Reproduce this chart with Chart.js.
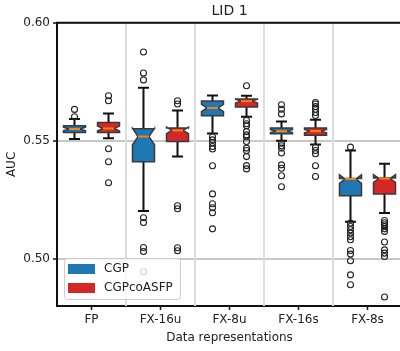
<!DOCTYPE html>
<html>
<head>
<meta charset="utf-8">
<script src="https://cdn.jsdelivr.net/npm/chart.js@4"></script>
<style>
  html, body { margin: 0; padding: 0; background: #fff; overflow: hidden; }
  #wrap { width: 404px; height: 351px; }
</style>
</head>
<body>
<div id="wrap"><canvas id="chart"></canvas></div>
<script>
// categories and axis ticks
const categories = ['FP', 'FX-16u', 'FX-8u', 'FX-16s', 'FX-8s'];
const yTicks = [0.50, 0.55, 0.60];

// CGP (blue) box stats
const cgpQ1  = [0.5535, 0.5411, 0.5606, 0.5530, 0.5267];
const cgpMed = [0.5550, 0.5518, 0.5639, 0.5541, 0.5338];
const cgpQ3  = [0.5564, 0.5551, 0.5669, 0.5554, 0.5340];
const cgpLo  = [0.5508, 0.5203, 0.5531, 0.5500, 0.5157];
const cgpHi  = [0.5592, 0.5725, 0.5692, 0.5582, 0.5459];
const cgpOut = [
  [0.5633, 0.5602],
  [0.5876, 0.5787, 0.5758, 0.5174, 0.5154, 0.5048, 0.5031, 0.4945],
  [0.5517, 0.5504, 0.5492, 0.5476, 0.5465, 0.5394, 0.5275, 0.5233, 0.5216, 0.5195, 0.5127],
  [0.5653, 0.5634, 0.5614, 0.5490, 0.5479, 0.5469, 0.5448, 0.5398, 0.5384, 0.5352, 0.5305],
  [0.5473, 0.5151, 0.5137, 0.5123, 0.5109, 0.5094, 0.5081, 0.5035, 0.5020, 0.4992, 0.4932, 0.4890]
];

// CGPcoASFP (red) box stats
const coQ1  = [0.5535, 0.5497, 0.5643, 0.5524, 0.5275];
const coMed = [0.5552, 0.5544, 0.5668, 0.5541, 0.5340];
const coQ3  = [0.5578, 0.5554, 0.5677, 0.5554, 0.5342];
const coLo  = [0.5511, 0.5433, 0.5602, 0.5484, 0.5194];
const coHi  = [0.5616, 0.5628, 0.5691, 0.5589, 0.5403];
const coOut = [
  [0.5691, 0.5670, 0.5466, 0.5411, 0.5322],
  [0.5670, 0.5656, 0.5225, 0.5212, 0.5047, 0.5034],
  [0.5733, 0.5586, 0.5572, 0.5564, 0.5539, 0.5525, 0.5516, 0.5497, 0.5469, 0.5459, 0.5433, 0.5395, 0.5381],
  [0.5662, 0.5656, 0.5645, 0.5634, 0.5620, 0.5607, 0.5473, 0.5459, 0.5445, 0.5394, 0.5349],
  [0.5162, 0.5153, 0.5144, 0.5136, 0.5127, 0.5116, 0.5071, 0.5038, 0.5024, 0.5010, 0.4838]
];

const runsPerBox = 40; // used for notch size

const series = [
  { label: 'CGP', color: '#1f77b4', q1: cgpQ1, med: cgpMed, q3: cgpQ3, lo: cgpLo, hi: cgpHi, out: cgpOut },
  { label: 'CGPcoASFP', color: '#d62728', q1: coQ1, med: coMed, q3: coQ3, lo: coLo, hi: coHi, out: coOut }
];

const FONT = "'DejaVu Sans', sans-serif";

function drawBox(ctx, y, cx, w, s, i) {
  const left = cx - w / 2, right = cx + w / 2;
  const capL = cx - w / 4, capR = cx + w / 4;
  const q1 = y.getPixelForValue(s.q1[i]);
  const q3 = y.getPixelForValue(s.q3[i]);
  const md = y.getPixelForValue(s.med[i]);
  const half = 1.57 * (s.q3[i] - s.q1[i]) / Math.sqrt(runsPerBox);
  const nLo = y.getPixelForValue(s.med[i] - half);
  const nHi = y.getPixelForValue(s.med[i] + half);
  const lo = y.getPixelForValue(s.lo[i]);
  const hi = y.getPixelForValue(s.hi[i]);

  // whiskers + caps
  ctx.strokeStyle = '#111';
  ctx.lineWidth = 2;
  ctx.beginPath();
  ctx.moveTo(cx, q1); ctx.lineTo(cx, lo);
  ctx.moveTo(cx, q3); ctx.lineTo(cx, hi);
  ctx.moveTo(capL, lo); ctx.lineTo(capR, lo);
  ctx.moveTo(capL, hi); ctx.lineTo(capR, hi);
  ctx.stroke();

  // notched box
  ctx.beginPath();
  ctx.moveTo(left, q1);
  ctx.lineTo(right, q1);
  ctx.lineTo(right, nLo);
  ctx.lineTo(capR, md);
  ctx.lineTo(right, nHi);
  ctx.lineTo(right, q3);
  ctx.lineTo(left, q3);
  ctx.lineTo(left, nHi);
  ctx.lineTo(capL, md);
  ctx.lineTo(left, nLo);
  ctx.closePath();
  ctx.fillStyle = s.color;
  ctx.fill();
  ctx.strokeStyle = '#3a3a3a';
  ctx.lineWidth = 1.5;
  ctx.lineJoin = 'miter';
  ctx.stroke();

  // median
  ctx.strokeStyle = '#ff7f0e';
  ctx.lineWidth = 2;
  ctx.beginPath();
  ctx.moveTo(capL, md); ctx.lineTo(capR, md);
  ctx.stroke();

  // fliers
  ctx.strokeStyle = '#222';
  ctx.lineWidth = 1.1;
  s.out[i].forEach(v => {
    ctx.beginPath();
    ctx.arc(cx, y.getPixelForValue(v), 3, 0, Math.PI * 2);
    ctx.stroke();
  });
}

const boxPlugin = {
  id: 'boxes',
  beforeDatasetsDraw(chart) {
    const { ctx, chartArea: a, scales: { x } } = chart;
    ctx.save();
    ctx.strokeStyle = '#dcdcdc';
    ctx.lineWidth = 2;
    for (let i = 0; i < categories.length; i++) {
      const px = x.getPixelForValue(i) + (x.getPixelForValue(1) - x.getPixelForValue(0)) / 2;
      ctx.beginPath();
      ctx.moveTo(px, a.top);
      ctx.lineTo(px, a.bottom);
      ctx.stroke();
    }
    ctx.restore();
  },
  afterDatasetsDraw(chart) {
    const { ctx, scales: { y } } = chart;
    ctx.save();
    series.forEach((s, di) => {
      chart.getDatasetMeta(di).data.forEach((bar, i) => drawBox(ctx, y, bar.x, bar.width, s, i));
    });
    ctx.restore();
  },
  afterDraw(chart) {
    const { ctx, chartArea: a } = chart;
    ctx.save();
    // top spine
    ctx.strokeStyle = '#111';
    ctx.lineWidth = 2;
    ctx.beginPath();
    ctx.moveTo(a.left - 1, a.top);
    ctx.lineTo(a.right, a.top);
    ctx.stroke();

    // legend, lower left inside the axes
    const lx = a.left + 7, ly = a.bottom - 48, lw = 116, lh = 41;
    ctx.fillStyle = 'rgba(255,255,255,0.8)';
    ctx.strokeStyle = '#cccccc';
    ctx.lineWidth = 1;
    ctx.beginPath();
    ctx.roundRect(lx + 0.5, ly + 0.5, lw, lh, 3);
    ctx.fill();
    ctx.stroke();
    ctx.font = '12px ' + FONT;
    ctx.textBaseline = 'middle';
    series.forEach((s, k) => {
      const ry = ly + 6 + k * 19;
      ctx.fillStyle = s.color;
      ctx.fillRect(lx + 4, ry, 27, 10);
      ctx.fillStyle = '#222';
      ctx.fillText(s.label, lx + 40, ry + 5);
    });
    ctx.restore();
  }
};

new Chart(document.getElementById('chart'), {
  type: 'bar',
  data: {
    labels: categories,
    datasets: series.map(s => ({
      label: s.label,
      data: s.q1.map((v, i) => [v, s.q3[i]]),
      backgroundColor: 'rgba(0,0,0,0)',
      borderWidth: 0,
      categoryPercentage: 0.986,
      barPercentage: 0.647
    }))
  },
  options: {
    responsive: true,
    maintainAspectRatio: false,
    animation: false,
    events: [],
    layout: { padding: { top: 0, left: 0, right: 2, bottom: 0 } },
    plugins: {
      legend: { display: false },
      tooltip: { enabled: false },
      title: {
        display: true,
        text: 'LID 1',
        fullSize: false,
        color: '#222',
        font: { family: FONT, size: 14, weight: 'normal' },
        padding: { top: 3, bottom: 3 }
      }
    },
    scales: {
      x: {
        offset: true,
        afterFit: s => { s.height = 45; },
        grid: { offset: false, drawOnChartArea: false, drawTicks: true, tickLength: 4, tickColor: '#111', tickWidth: 1.5 },
        border: { color: '#111', width: 2 },
        ticks: { color: '#222', font: { family: FONT, size: 12 }, padding: 3, maxRotation: 0 },
        title: { display: true, text: 'Data representations', color: '#222', font: { family: FONT, size: 12 }, padding: { top: 0, bottom: 6 } }
      },
      y: {
        min: 0.48,
        max: 0.60,
        afterFit: s => { s.width = 57; },
        afterBuildTicks: s => { s.ticks = yTicks.map(v => ({ value: v })); },
        grid: { color: '#c8c8c8', lineWidth: 2, tickLength: 4, tickColor: '#111', tickWidth: 1.5 },
        border: { color: '#111', width: 2 },
        ticks: { color: '#222', font: { family: FONT, size: 12 }, padding: 3, callback: v => v.toFixed(2) },
        title: { display: true, text: 'AUC', color: '#222', font: { family: FONT, size: 12 }, padding: { top: 5, bottom: 0 } }
      }
    }
  },
  plugins: [boxPlugin]
});
</script>
</body>
</html>
